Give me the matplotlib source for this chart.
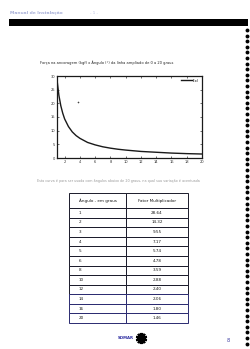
import matplotlib
matplotlib.use("Agg")
import matplotlib.pyplot as plt
from matplotlib.lines import Line2D
from matplotlib.patches import Rectangle

# ---- data ----
curve_x = [1, 1.25, 1.5, 1.75, 2, 2.5, 3, 3.5, 4, 5, 6, 7, 8, 9, 10, 12, 14, 16, 18, 20]
curve_y = [28.6, 22.9, 19.1, 16.4, 14.3, 11.5, 9.55, 8.2, 7.2, 5.7, 4.8, 4.1, 3.6, 3.2, 2.9, 2.4, 2.1, 1.8, 1.6, 1.46]
x_ticks = [2, 4, 6, 8, 10, 12, 14, 16, 18, 20]
y_ticks = [0, 5, 10, 15, 20, 25, 30]
angles = ["1", "2", "3", "4", "5", "6", "8", "10", "12", "14", "16", "20"]
factors = ["28.64", "14.32", "9.55", "7.17", "5.74", "4.78", "3.59", "2.88", "2.40", "2.06", "1.80", "1.46"]
col_labels = ["Ângulo - em graus", "Fator Multiplicador"]
title = "Força na ancoragem (kgf) x Ângulo (°) da linha ampliado de 0 a 20 graus"
caption = "Esta curva é para ser usada com ângulos abaixo de 20 graus, na qual sua variação é acentuada"

W, H = 250, 349
fig = plt.figure(figsize=(W / 100, H / 100), dpi=100)
fig.patch.set_facecolor("white")


def rect(x0, y0, x1, y1):
    return [x0 / W, 1 - y1 / H, (x1 - x0) / W, (y1 - y0) / H]


def fx(x):
    return x / W


def fy(y):
    return 1 - y / H


# header bar and faint header text
fig.add_artist(Rectangle((fx(9), fy(26)), (248 - 9) / W, 7 / H, transform=fig.transFigure,
                         facecolor="black", edgecolor="none"))
fig.text(fx(10), fy(13), "Manual de Instalação", fontsize=3.2, color="#a9b0d8", va="center",
         fontweight="bold")
fig.text(fx(90), fy(13), "- 1 -", fontsize=3, color="#b5bbe0", va="center")

# binding holes on right edge
y = 30
while y < H:
    fig.add_artist(Line2D([fx(246.5)], [fy(y)], marker="o", markersize=2.8, color="black",
                          transform=fig.transFigure, markeredgewidth=0))
    y += 5.6

# chart
fig.text(fx(40), fy(63), title, fontsize=2.6, color="#222222", va="center")
ax = fig.add_axes(rect(57, 76, 202, 158))
ax.plot(curve_x, curve_y, color="#1a1a1a", lw=1.0, label="f(x)")
ax.set_xlim(1, 20)
ax.set_ylim(0, 30)
ax.set_xticks(x_ticks)
ax.set_yticks(y_ticks)
ax.tick_params(direction="in", length=1.5, width=0.5, labelsize=2.6, pad=1.5,
               top=True, right=True, colors="#333333")
for s in ax.spines.values():
    s.set_linewidth(0.9)
    s.set_color("#1a1a1a")
ax.plot([3.8], [20.5], marker="+", color="#444444", markersize=2, mew=0.4)
leg = ax.legend(loc="upper right", fontsize=2.6, frameon=False, handlelength=3,
                borderaxespad=0.3, handletextpad=0.5)

fig.text(fx(37), fy(181), caption, fontsize=2.4, color="#9a9a9a", va="center")

# table
tax = fig.add_axes(rect(69, 193, 188, 323))
tax.axis("off")
cell_text = [[a, f] for a, f in zip(angles, factors)]
n = len(cell_text)
hh = 15 / 130
rh = (1 - hh) / n
tbl = tax.table(cellText=cell_text, colLabels=col_labels, bbox=[0, 0, 1, 1],
                colWidths=[57 / 119, 62 / 119], cellLoc="center")
tbl.auto_set_font_size(False)
for (r, c), cell in tbl.get_celld().items():
    cell.set_linewidth(0.7)
    cell.set_edgecolor("#1a1a2a" if r < 10 else "#2a2a70")
    cell.set_height(hh if r == 0 else rh)
    t = cell.get_text()
    t.set_fontsize(3.0)
    t.set_color("#1a1a1a")
    if c == 0:
        t.set_ha("left")
        cell.PAD = 0.17

# logo and page number
fig.text(fx(134), fy(338), "SOMAR", fontsize=2.8, color="#2a2aa0", ha="right", va="center",
         fontweight="bold")
fig.add_artist(Line2D([fx(141)], [fy(338)], marker=(10, 2, 0), markersize=8, color="black",
                      mew=1.6, transform=fig.transFigure))
fig.text(fx(228), fy(340), "8", fontsize=3.5, color="#3a3aa0", ha="center", va="center")

fig.savefig("out.png", dpi=100, facecolor="white")
